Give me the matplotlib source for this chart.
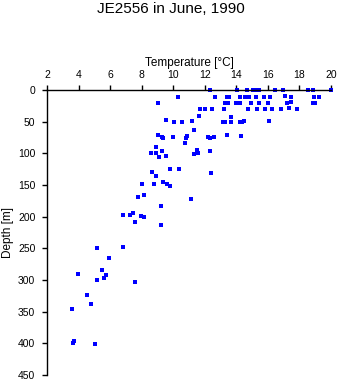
import matplotlib.pyplot as plt

# Temperature [°C] and depth [m]
temperature = [
    12.33, 14.04, 14.64, 15.05, 15.23, 15.44, 16.47, 16.96, 18.54, 18.86, 20.0,
    10.30, 12.65, 13.41, 13.53, 14.23, 14.55, 14.80, 15.25, 15.75, 16.13, 17.08, 17.46, 18.92, 19.24,
    9.03, 13.28, 13.41, 13.47, 14.00, 14.13, 14.23, 14.93, 15.44, 16.01, 17.23, 17.46, 18.86, 19.00,
    11.70, 12.01, 12.46, 13.20, 14.72, 15.31, 15.81, 16.26, 16.81, 17.32, 17.84,
    11.63, 13.66,
    9.52, 10.05, 10.56, 11.21, 13.15, 13.26, 13.66, 14.23, 14.38, 14.48, 16.05,
    11.31,
    9.03, 9.27, 9.35, 9.98, 10.87, 10.83, 10.75, 12.18, 12.35, 12.58, 13.37, 14.29,
    8.90, 8.60, 8.87, 9.29, 9.10, 9.52, 11.50, 11.57, 11.31, 12.35,
    9.80, 10.36, 8.65, 8.90, 12.39,
    8.02, 8.76, 9.35, 9.60, 9.80,
    11.09, 7.73, 8.11, 9.22,
    6.82, 7.22, 7.45, 7.96, 8.11, 7.58, 9.19,
    5.17, 6.82, 5.93, 3.96, 5.45, 5.72, 5.61, 5.17, 7.58,
    4.53, 4.79, 3.58, 3.67, 3.63, 5.02,
]
depth = [
    0, 0, 0, 0, 0, 0, 0, 0, 0, 0, 0,
    11.6, 11.6, 11.6, 11.6, 11.6, 11.6, 10.5, 11.6, 11.6, 10.5, 10.0, 11.6, 11.6, 10.5,
    21, 21, 21, 21, 21, 21, 21, 21, 21, 21, 21, 19.5, 21, 20.5,
    30.5, 30.5, 30.5, 30.5, 30.5, 30.5, 30.5, 30.5, 30.5, 29, 30.5,
    40.5, 42,
    48, 50.6, 51, 49.5, 50.6, 51, 51, 50, 50, 48.5, 49.5,
    63.2,
    71.6, 74.8, 76, 73.7, 72.7, 76.3, 84, 74.8, 76.3, 74.8, 71.6, 73.2,
    90.5, 99, 100, 96.9, 105, 104, 95.3, 99.5, 100.6, 96.9,
    125, 124.6, 130, 136, 131.6,
    148.5, 149, 145, 149, 151,
    172.7, 169.6, 166.4, 183.8,
    197.5, 198, 194.3, 199.6, 201, 208.5, 213.8,
    249.6, 247.5, 265.9, 290.7, 284.9, 292.8, 297, 300.7, 303.8,
    323.9, 337.6, 346.5, 395.5, 400, 401.7,
]
x_ticks = list(range(2, 21, 2))
y_ticks = list(range(0, 451, 50))

plt.rcParams["font.family"] = ["Liberation Sans", "DejaVu Sans"]

fig = plt.figure(figsize=(3.41, 3.84), dpi=100)
ax = fig.add_axes([0.1387, 0.0234, 0.832, 0.742])

ax.plot(temperature, depth, linestyle="none", marker="s", markersize=2.2,
        color="#0000ff", markeredgewidth=0, clip_on=False)

ax.set_xlim(2, 20)
ax.set_ylim(450, 0)
ax.set_xticks(x_ticks)
ax.set_yticks(y_ticks)
ax.xaxis.set_ticks_position("top")
ax.xaxis.set_label_position("top")
ax.tick_params(direction="out", length=3.6, width=1, labelsize=7.5)
ax.tick_params(axis="x", pad=3.5)
ax.tick_params(axis="y", pad=5)
for side in ["bottom", "right"]:
    ax.spines[side].set_visible(False)
for side in ["top", "left"]:
    ax.spines[side].set_linewidth(1)

ax.set_xlabel("Temperature [°C]", fontsize=8.5, labelpad=3)
ax.set_ylabel("Depth [m]", fontsize=8.5, labelpad=3)
fig.text(0.5, 1 - 13 / 384, "JE2556 in June, 1990", ha="center", va="baseline",
         fontsize=11)

fig.savefig("out.png", dpi=100)
